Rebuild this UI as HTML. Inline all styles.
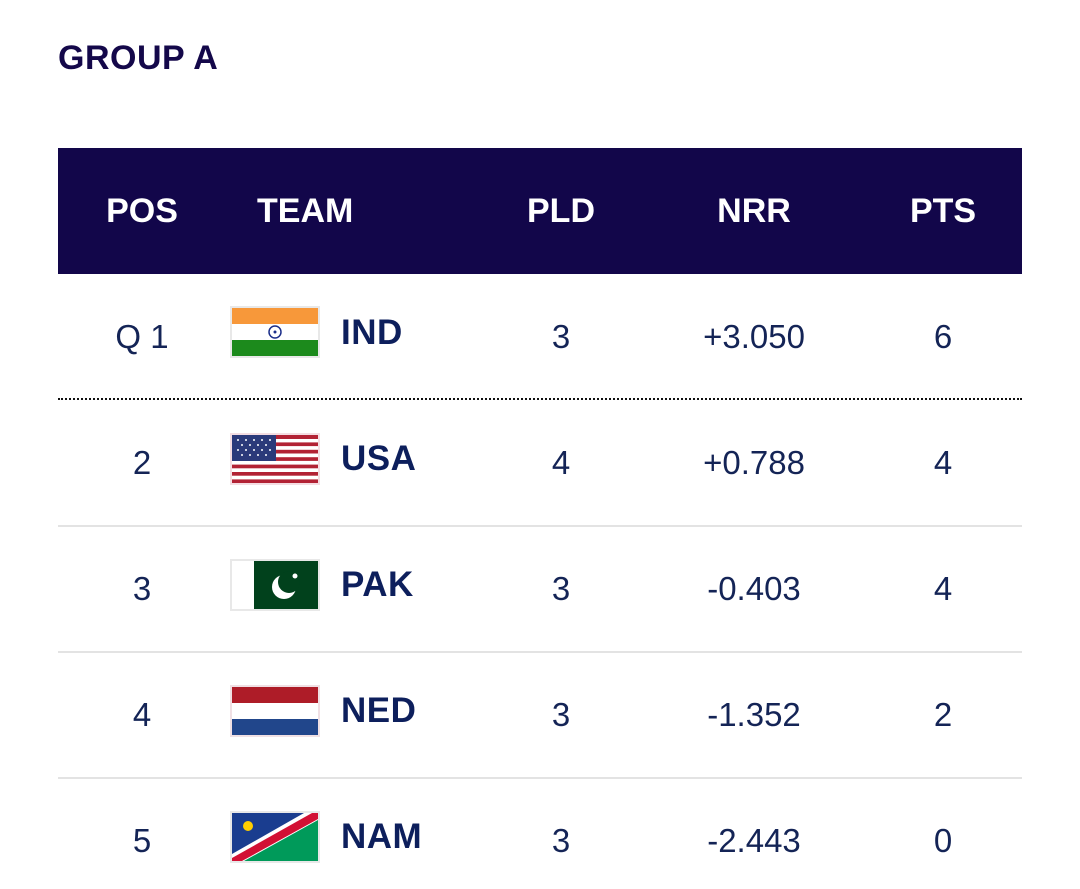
<!DOCTYPE html>
<html><head><style>
body{margin:0;width:1080px;height:889px;background:#fff;position:relative;overflow:hidden;font-family:"Liberation Sans",sans-serif;}
.a{position:absolute;line-height:1;white-space:nowrap;}
.t{font-weight:bold;color:#14084a;}
.h{font-weight:bold;color:#fff;font-size:34px;top:194px;}
.c{transform:translateX(-50%);}
.n{color:#142456;font-size:33px;}
.k{font-weight:bold;color:#0d1f5c;font-size:35px;left:341px;letter-spacing:0.5px;}
.sep{position:absolute;left:58px;width:964px;height:2px;background:#e3e3e3;}
.f{position:absolute;left:230px;width:90px;height:52px;box-sizing:border-box;border:2px solid #e8e8e8;overflow:hidden;}
</style></head><body>
<div class="a t" style="left:58px;top:41px;font-size:34px;letter-spacing:0.5px;">GROUP A</div>
<div style="position:absolute;left:58px;top:148px;width:964px;height:126px;background:#12064a;"></div>
<div class="a h c" style="left:142px">POS</div>
<div class="a h" style="left:257px">TEAM</div>
<div class="a h c" style="left:561px">PLD</div>
<div class="a h c" style="left:754px">NRR</div>
<div class="a h c" style="left:943px">PTS</div>

<div style="position:absolute;left:58px;top:398px;width:964px;border-top:2px dotted #111;"></div>
<div class="sep" style="top:525px"></div>
<div class="sep" style="top:651px"></div>
<div class="sep" style="top:777px"></div>

<div class="f" style="top:306px"><svg width="86" height="48"><rect width="86" height="16" fill="#f7983a"/><rect y="16" width="86" height="16" fill="#fff"/><rect y="32" width="86" height="16" fill="#1c8a1c"/><circle cx="43" cy="24" r="6" fill="none" stroke="#1c2f8a" stroke-width="1.5"/><circle cx="43" cy="24" r="1.5" fill="#1c2f8a"/></svg></div>
<div class="f" style="top:433px;border-color:#f4dde2"><svg width="86" height="48"><g fill="#b22234"><rect y="0" width="86" height="4"/><rect y="7.4" width="86" height="3.7"/><rect y="14.8" width="86" height="3.7"/><rect y="22.2" width="86" height="3.7"/><rect y="29.6" width="86" height="3.7"/><rect y="37" width="86" height="3.7"/><rect y="44.4" width="86" height="3.7"/></g><rect width="44" height="26" fill="#2b3a7a"/><g fill="#fff"><circle cx="6" cy="5" r="1"/><circle cx="14" cy="5" r="1"/><circle cx="22" cy="5" r="1"/><circle cx="30" cy="5" r="1"/><circle cx="38" cy="5" r="1"/><circle cx="10" cy="10" r="1"/><circle cx="18" cy="10" r="1"/><circle cx="26" cy="10" r="1"/><circle cx="34" cy="10" r="1"/><circle cx="6" cy="15" r="1"/><circle cx="14" cy="15" r="1"/><circle cx="22" cy="15" r="1"/><circle cx="30" cy="15" r="1"/><circle cx="38" cy="15" r="1"/><circle cx="10" cy="20" r="1"/><circle cx="18" cy="20" r="1"/><circle cx="26" cy="20" r="1"/><circle cx="34" cy="20" r="1"/></g></svg></div>
<div class="f" style="top:559px"><svg width="86" height="48"><rect width="22" height="48" fill="#fff"/><rect x="22" width="64" height="48" fill="#01411c"/><circle cx="52" cy="26" r="12" fill="#fff"/><circle cx="57" cy="21" r="11" fill="#01411c"/><circle cx="63" cy="15" r="2.5" fill="#fff"/></svg></div>
<div class="f" style="top:685px;border-color:#f0e0e4"><svg width="86" height="48"><rect width="86" height="16" fill="#ae1c28"/><rect y="16" width="86" height="16" fill="#fff"/><rect y="32" width="86" height="16" fill="#21468b"/></svg></div>
<div class="f" style="top:811px"><svg width="86" height="48"><rect width="86" height="48" fill="#009a5a"/><polygon points="0,0 86,0 0,48" fill="#1a3d8f"/><polygon points="0,41 72,0 86,0 86,7 12,48 0,48" fill="#fff"/><polygon points="0,45 80,0 86,0 86,3 7,48 0,48" fill="#d21034"/><polygon points="2,48 86,1 86,6 10,48" fill="#d21034"/><circle cx="16" cy="13" r="5" fill="#ffce00"/></svg></div>

<div class="a n c" style="left:142px;top:320px">Q 1</div>
<div class="a k" style="top:315px">IND</div>
<div class="a n c" style="left:561px;top:320px">3</div>
<div class="a n c" style="left:754px;top:320px">+3.050</div>
<div class="a n c" style="left:943px;top:320px">6</div>

<div class="a n c" style="left:142px;top:446px">2</div>
<div class="a k" style="top:441px">USA</div>
<div class="a n c" style="left:561px;top:446px">4</div>
<div class="a n c" style="left:754px;top:446px">+0.788</div>
<div class="a n c" style="left:943px;top:446px">4</div>

<div class="a n c" style="left:142px;top:572px">3</div>
<div class="a k" style="top:567px">PAK</div>
<div class="a n c" style="left:561px;top:572px">3</div>
<div class="a n c" style="left:754px;top:572px">-0.403</div>
<div class="a n c" style="left:943px;top:572px">4</div>

<div class="a n c" style="left:142px;top:698px">4</div>
<div class="a k" style="top:693px">NED</div>
<div class="a n c" style="left:561px;top:698px">3</div>
<div class="a n c" style="left:754px;top:698px">-1.352</div>
<div class="a n c" style="left:943px;top:698px">2</div>

<div class="a n c" style="left:142px;top:824px">5</div>
<div class="a k" style="top:819px">NAM</div>
<div class="a n c" style="left:561px;top:824px">3</div>
<div class="a n c" style="left:754px;top:824px">-2.443</div>
<div class="a n c" style="left:943px;top:824px">0</div>
</body></html>
